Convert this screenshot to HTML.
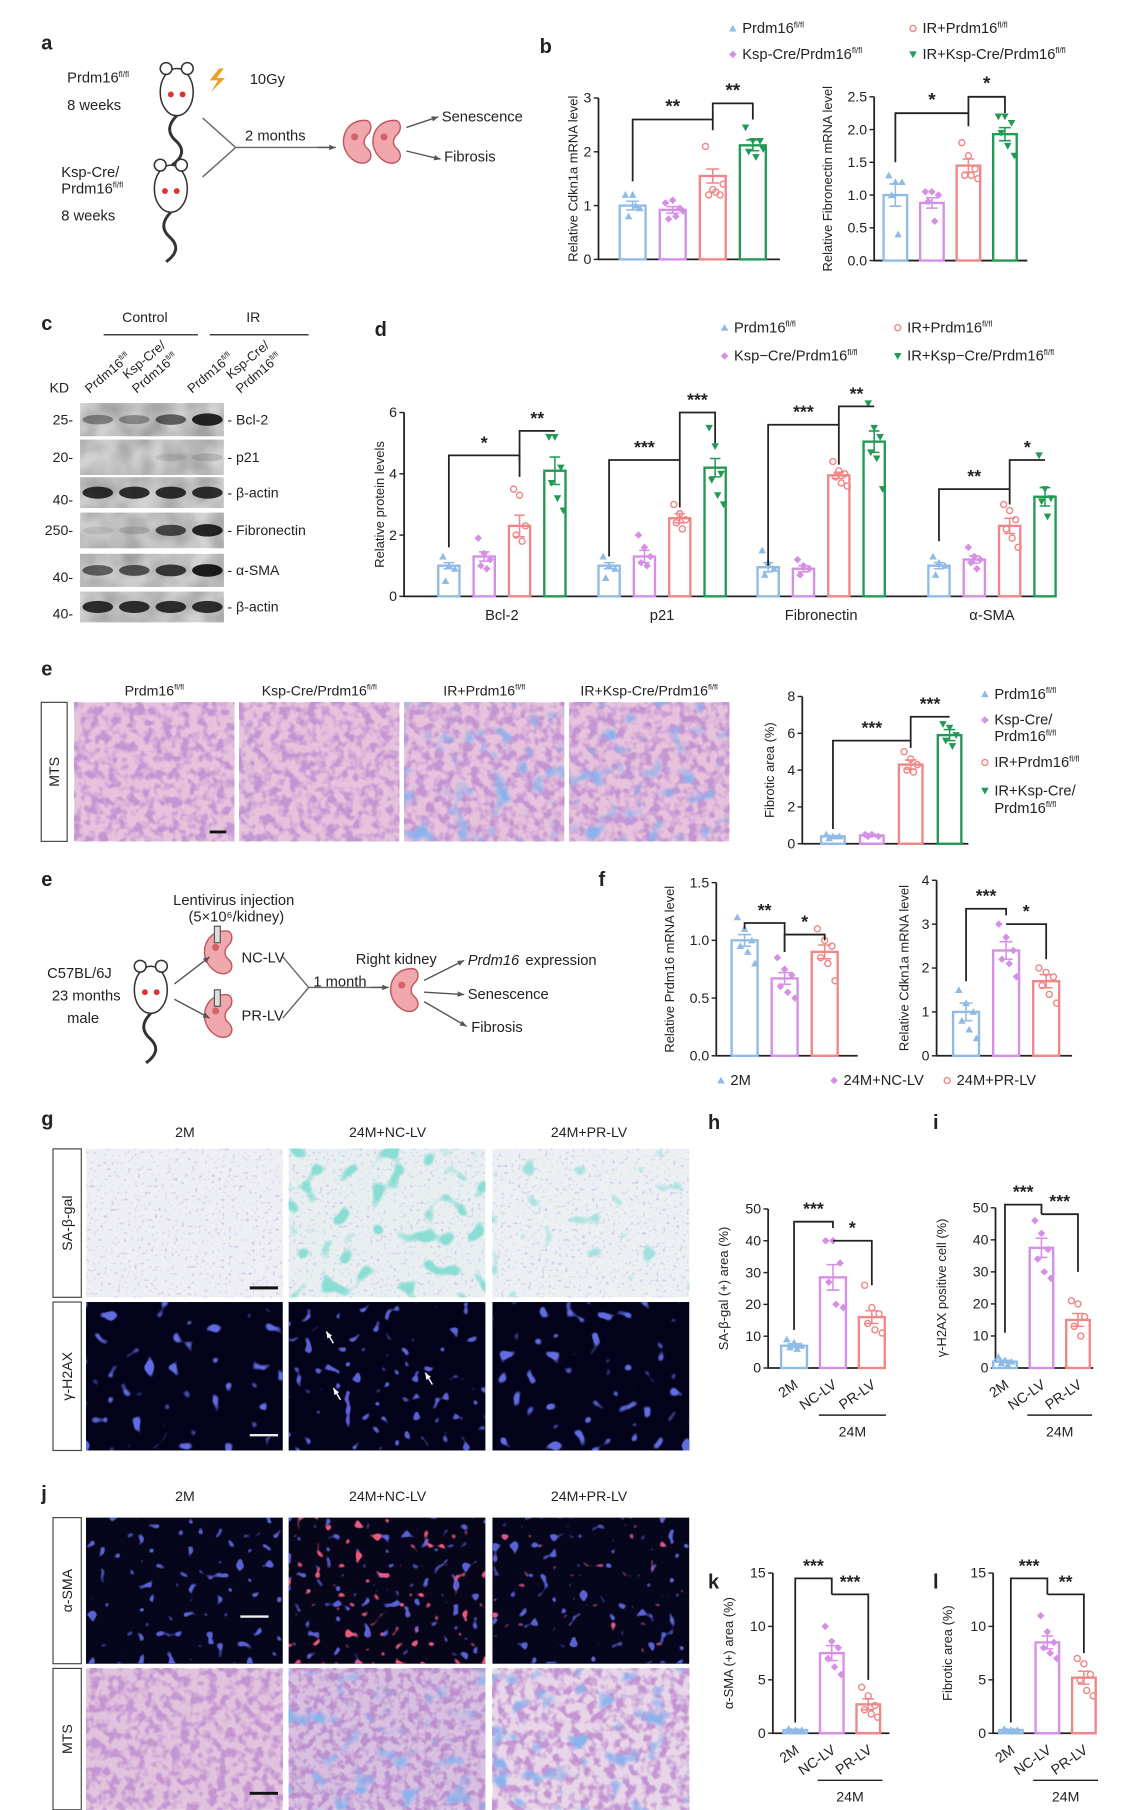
<!DOCTYPE html>
<html><head><meta charset="utf-8">
<style>
html,body{margin:0;padding:0;background:#fff;}
svg{display:block;font-family:"Liberation Sans",sans-serif;}
</style></head>
<body>
<svg id="fig" width="1131" height="1810" viewBox="0 0 960 1536" xmlns="http://www.w3.org/2000/svg">
<defs>
<filter id="histo" x="0" y="0" width="1" height="1"><feTurbulence type="fractalNoise" baseFrequency="0.13" numOctaves="2" seed="3"/><feColorMatrix type="matrix" values="0 0 0 0 0.55  0 0 0 0 0.3  0 0 0 0 0.65  4 0 0 0 -1.7"/></filter>
<filter id="histo2" x="0" y="0" width="1" height="1"><feTurbulence type="fractalNoise" baseFrequency="0.15" numOctaves="2" seed="8"/><feColorMatrix type="matrix" values="0 0 0 0 0.5  0 0 0 0 0.28  0 0 0 0 0.62  4 0 0 0 -1.7"/></filter>
<filter id="collagen" x="0" y="0" width="1" height="1"><feTurbulence type="fractalNoise" baseFrequency="0.06" numOctaves="2" seed="5"/><feColorMatrix type="matrix" values="0 0 0 0 0.25  0 0 0 0 0.45  0 0 0 0 0.85  5 0 0 0 -2.9"/></filter>
<filter id="dots" x="0" y="0" width="1" height="1"><feTurbulence type="fractalNoise" baseFrequency="0.35" numOctaves="1" seed="2"/><feColorMatrix type="matrix" values="0 0 0 0 0.62  0 0 0 0 0.58  0 0 0 0 0.82  6 0 0 0 -3.6"/></filter>
<filter id="teal" x="0" y="0" width="1" height="1"><feTurbulence type="fractalNoise" baseFrequency="0.07" numOctaves="1" seed="11"/><feColorMatrix type="matrix" values="0 0 0 0 0.25  0 0 0 0 0.72  0 0 0 0 0.65  10 0 0 0 -5.8"/></filter>
<filter id="teal2" x="0" y="0" width="1" height="1"><feTurbulence type="fractalNoise" baseFrequency="0.07" numOctaves="1" seed="4"/><feColorMatrix type="matrix" values="0 0 0 0 0.35  0 0 0 0 0.75  0 0 0 0 0.72  10 0 0 0 -6.6"/></filter>
<filter id="nuclei" x="0" y="0" width="1" height="1"><feTurbulence type="fractalNoise" baseFrequency="0.09" numOctaves="1" seed="6"/><feColorMatrix type="matrix" values="0 0 0 0 0.12  0 0 0 0 0.15  0 0 0 0 0.75  14 0 0 0 -9"/></filter>
<filter id="nuclei2" x="0" y="0" width="1" height="1"><feTurbulence type="fractalNoise" baseFrequency="0.12" numOctaves="1" seed="9"/><feColorMatrix type="matrix" values="0 0 0 0 0.1  0 0 0 0 0.12  0 0 0 0 0.65  14 0 0 0 -9"/></filter>
<filter id="redsig" x="0" y="0" width="1" height="1"><feTurbulence type="fractalNoise" baseFrequency="0.12" numOctaves="1" seed="13"/><feColorMatrix type="matrix" values="0 0 0 0 0.85  0 0 0 0 0.1  0 0 0 0 0.2  14 0 0 0 -9.2"/></filter>
<filter id="redsig2" x="0" y="0" width="1" height="1"><feTurbulence type="fractalNoise" baseFrequency="0.12" numOctaves="1" seed="17"/><feColorMatrix type="matrix" values="0 0 0 0 0.7  0 0 0 0 0.1  0 0 0 0 0.25  14 0 0 0 -9.8"/></filter>
<filter id="blot" x="0" y="0" width="1" height="1"><feTurbulence type="fractalNoise" baseFrequency="0.05" numOctaves="2" seed="1"/><feColorMatrix type="matrix" values="0 0 0 0 0  0 0 0 0 0  0 0 0 0 0  0.4 0 0 0 -0.1"/></filter>
</defs>
</svg>
<script>
// ---------------- DATA ----------------
const groups4 = ['Prdm16fl/fl','Ksp-Cre/Prdm16fl/fl','IR+Prdm16fl/fl','IR+Ksp-Cre/Prdm16fl/fl'];
const groups3 = ['2M','24M+NC-LV','24M+PR-LV'];
const bCdkVals = [1.0, 0.92, 1.55, 2.12];
const bCdkSem = [0.08, 0.06, 0.13, 0.1];
const bCdkPts = [[1.2,1.2,0.95,0.8,1.0],[1.05,1.1,0.95,0.75,0.8,0.9],[2.1,1.3,1.2,1.2,1.25,1.4],[2.45,2.2,2.2,2.0,1.9,2.05]];
const bCdkTicks = [0,1,2,3];
const bFnVals = [1.0, 0.88, 1.45, 1.93];
const bFnSem = [0.17, 0.08, 0.1, 0.1];
const bFnPts = [[1.3,1.2,1.2,1.0,0.4],[1.05,1.05,1.0,0.9,0.6],[1.8,1.6,1.4,1.3,1.3,1.25],[2.2,2.2,2.1,1.95,1.75,1.6]];
const bFnTicks = [0,0.5,1,1.5,2,2.5];
const dCats = ['Bcl-2','p21','Fibronectin','α-SMA'];
const dVals = [[1.0,1.3,2.3,4.1],[1.0,1.3,2.55,4.2],[0.95,0.9,3.95,5.05],[1.0,1.2,2.3,3.25]];
const dSem = [[0.1,0.15,0.35,0.45],[0.1,0.2,0.15,0.3],[0.15,0.1,0.1,0.35],[0.1,0.12,0.25,0.3]];
const dPts = [[[1.3,1.0,0.9,0.5],[1.9,1.4,1.2,1.0,0.9],[3.5,3.3,2.3,2.0,1.8],[5.2,5.2,4.2,3.7,3.2,2.8]],[[1.3,1.0,0.9,0.6],[2.0,1.6,1.3,1.1,1.0],[3.0,2.7,2.5,2.4,2.2],[5.5,4.9,4.0,3.8,3.3,3.0]],[[1.5,1.1,0.9,0.7],[1.2,1.0,0.9,0.7],[4.4,4.1,4.0,3.9,3.7,3.6],[6.3,5.5,5.2,4.7,4.5,3.5]],[[1.3,1.1,1.0,0.7],[1.6,1.3,1.2,1.1,0.9],[3.0,2.8,2.5,2.2,1.9,1.6],[4.6,3.5,3.2,3.1,2.6]]];
const dTicks = [0,2,4,6];
const eVals = [0.4, 0.45, 4.3, 5.9];
const eSem = [0.05, 0.05, 0.25, 0.3];
const ePts = [[0.5,0.4,0.4,0.3],[0.5,0.5,0.4,0.4],[5.0,4.6,4.3,4.0,3.9],[6.5,6.3,5.9,5.6,5.3]];
const eTicks = [0,2,4,6,8];
const fPrdmVals = [1.0, 0.67, 0.9];
const fPrdmSem = [0.05, 0.05, 0.06];
const fPrdmPts = [[1.2,1.1,1.0,0.95,0.9,0.8],[0.85,0.75,0.7,0.6,0.55,0.5],[1.1,1.0,0.95,0.85,0.8,0.65]];
const fPrdmTicks = [0,0.5,1,1.5];
const fCdkVals = [1.0, 2.4, 1.7];
const fCdkSem = [0.2, 0.2, 0.15];
const fCdkPts = [[1.5,1.2,1.0,0.8,0.6,0.4],[3.0,2.7,2.4,2.2,2.1,1.8],[2.0,1.9,1.8,1.6,1.4,1.2]];
const fCdkTicks = [0,1,2,3,4];
const hVals = [7, 28.5, 16];
const hSem = [0.6, 4, 2];
const hPts = [[9,8,7,6.5,6],[40,40,33,27,20,19],[26,19,17,14,12,11]];
const hTicks = [0,10,20,30,40,50];
const iVals = [2, 37.5, 15];
const iSem = [0.4, 3, 2];
const iPts = [[3.5,2.5,2,1.5,1],[46,42,37,34,30,28],[21,20,16,13,10]];
const iTicks = [0,10,20,30,40,50];
const kVals = [0.3, 7.5, 2.7];
const kSem = [0.05, 0.7, 0.5];
const kPts = [[0.4,0.3,0.3,0.2,0.2],[10,8.6,8,7,6.2,5.5],[4.3,3.5,2.6,2.2,1.8,1.5]];
const kTicks = [0,5,10,15];
const lVals = [0.3, 8.5, 5.2];
const lSem = [0.05, 0.6, 0.6];
const lPts = [[0.4,0.3,0.3,0.2,0.2],[11,9.5,8.5,8,7.5,7],[7,6.5,5.5,5,4,3.5]];
const lTicks = [0,5,10,15];

// ---------------- HELPERS ----------------
const NS='http://www.w3.org/2000/svg';
const svg=document.getElementById('fig');
const C4=['#8fbbe6','#d58fe6','#f08686','#229a55'];
const S4=['tri','dia','circ','tridown'];
const C3=['#8fbbe6','#d58fe6','#f08686'];
const S3=['tri','dia','circ'];
function mk(tag,attrs,parent){const e=document.createElementNS(NS,tag);for(const k in attrs)e.setAttribute(k,attrs[k]);(parent||svg).appendChild(e);return e;}
function txt(x,y,s,size,opts,parent){opts=opts||{};const t=mk('text',{x:x,y:y,'font-size':size,fill:opts.fill||'#222','text-anchor':opts.anchor||'start','font-weight':opts.bold?'bold':'normal','font-style':opts.italic?'italic':'normal'},parent);if(opts.rot)t.setAttribute('transform','rotate('+opts.rot+' '+x+' '+y+')');t.textContent=s;return t;}
function fltxt(x,y,base,size,opts,parent){const t=txt(x,y,base,size,opts,parent);const sp=document.createElementNS(NS,'tspan');sp.setAttribute('font-size',size*0.55);sp.setAttribute('dy',-size*0.4);sp.textContent='fl/fl';t.appendChild(sp);return t;}
function marker(x,y,shape,color,r,parent){let e;
 if(shape==='tri')e=mk('path',{d:`M${x} ${y-r}L${x+r} ${y+r*0.8}L${x-r} ${y+r*0.8}Z`,fill:color},parent);
 else if(shape==='tridown')e=mk('path',{d:`M${x} ${y+r}L${x+r} ${y-r*0.8}L${x-r} ${y-r*0.8}Z`,fill:color},parent);
 else if(shape==='dia')e=mk('path',{d:`M${x} ${y-r}L${x+r} ${y}L${x} ${y+r}L${x-r} ${y}Z`,fill:color},parent);
 else e=mk('circle',{cx:x,cy:y,r:r*0.8,fill:'none',stroke:color,'stroke-width':1.2},parent);
 return e;}
function panelLabel(x,y,s){const t=txt(x,y,s,17,{bold:true});}

function barChart(o){
 const g=mk('g',{});
 
 
 const max=o.ticks[o.ticks.length-1];
 const Y=v=>o.y0-(v/max)*(o.y0-o.yTop);
 o.Y=Y;
 const ax=mk('path',{d:`M${o.ax} ${o.yTop}V${o.y0}H${o.axEnd}`,fill:'none',stroke:'#222','stroke-width':1.5},g);
 
 
 o.ticks.forEach(t=>{
  mk('line',{x1:o.ax-4,x2:o.ax,y1:Y(t),y2:Y(t),stroke:'#222','stroke-width':1.2},g);
  const tl=txt(o.ax-6,Y(t)+4,o.tickFmt?o.tickFmt(t):String(t),o.fs||12,{anchor:'end'},g);
  
  
 });
 const yl=txt(o.ylx,(o.y0+o.yTop)/2,o.ylabel,o.yfs||11,{anchor:'middle',rot:-90},g);
 
 
 o.centers=[];
 o.vals.forEach((v,i)=>{
  const c=(o.cx?o.cx(i):o.c0+i*o.step);o.centers.push(c);
  const col=o.colors[i%o.colors.length];
  const r=mk('rect',{x:c-o.bw/2,y:Y(v),width:o.bw,height:o.y0-Y(v),fill:'#fff',stroke:col,'stroke-width':2},g);
  
  
  const s=o.sem[i];
  mk('path',{d:`M${c} ${Y(v-s)}V${Y(v+s)}M${c-o.bw*0.25} ${Y(v+s)}H${c+o.bw*0.25}M${c-o.bw*0.25} ${Y(v-s)}H${c+o.bw*0.25}`,stroke:col,'stroke-width':1.3,fill:'none'},g);
  o.pts[i].forEach((p,k)=>{
   const off=((k%3)-1)*o.bw*0.28+(k>=3?o.bw*0.12:0);
   const m=marker(c+off,Y(p),o.shapes[i%o.shapes.length],col,o.mr||3.2,g);
   
   
  });
 });
 return o;
}
function bracket(o,i,j,h,la,lb,label,fs){
 const Y=o.Y,x1=o.centers[i],x2=o.centers[j];
 const p=mk('path',{d:`M${x1} ${Y(la)}V${Y(h)}H${x2}V${Y(lb)}`,fill:'none',stroke:'#222','stroke-width':1.5});
 
 
 const t=txt((x1+x2)/2,Y(h)-6,label,fs||15,{anchor:'middle',bold:true});
 
 
}
function xCatRot(o,labels){
 labels.forEach((l,i)=>{const t=txt(o.centers[i]+4,o.y0+16,l,12,{anchor:'end',rot:-35});
  
  });
 mk('line',{x1:o.centers[1]-12,x2:o.centers[2]+12,y1:o.y0+40,y2:o.y0+40,stroke:'#222','stroke-width':1.2});
 const t=txt((o.centers[1]+o.centers[2])/2,o.y0+58,'24M',12,{anchor:'middle'});
 
 
}
function image(x,y,w,h,base,filters,name){
 const g=mk('g',{});
 
 
 mk('rect',{x:x,y:y,width:w,height:h,fill:base},g);
 filters.forEach(f=>mk('rect',{x:x,y:y,width:w,height:h,filter:'url(#'+f+')'},g));
 return g;
}
function sideLabel(x,y,w,h,s){
 const r=mk('rect',{x:x,y:y,width:w,height:h,fill:'#fff',stroke:'#444','stroke-width':1});
 
 
 const t=txt(x+w/2+4,y+h/2,s,12,{anchor:'middle',rot:-90});
 
 
}
function legendEntry(x,y,shape,col,label,fl){
 const m=marker(x,y-4,shape,col,3.2);
 
 
 const t=fl?fltxt(x+8,y,label,12.5,{}):txt(x+8,y,label,12.5,{});
 
 
}
function mouse(x,y){
 const g=mk('g',{fill:'#fff',stroke:'#333','stroke-width':1.3});
 
 
 mk('ellipse',{cx:x,cy:y,rx:14,ry:20},g);
 mk('circle',{cx:x-9,cy:y-20,r:5},g);mk('circle',{cx:x+9,cy:y-20,r:5},g);
 mk('path',{d:`M${x} ${y+20}q-12 12 0 22q10 10 -4 20`,fill:'none','stroke-width':2.5},g);
 mk('circle',{cx:x-5,cy:y+2,r:2.5,fill:'#d33',stroke:'none'},g);mk('circle',{cx:x+5,cy:y+2,r:2.5,fill:'#d33',stroke:'none'},g);
}
function kidney(x,y,s){
 const g=mk('g',{});
 
 
 mk('path',{d:`M${x} ${y-18*s}c-16 0-20 14-18 22s10 16 18 14c6-2 6-8 2-12c-4-3-4-8 0-12c4-3 4-12-2-12z`,fill:'#f0a8ac',stroke:'#c0565e','stroke-width':1.2},g);
 mk('circle',{cx:x-9,cy:y-4,r:3,fill:'#d4626b'},g);
 return g;
}
function arrow(x1,y1,x2,y2,col){
 col=col||'#555';
 const l=mk('line',{x1:x1,y1:y1,x2:x2,y2:y2,stroke:col,'stroke-width':1.2});
 
 
 const a=Math.atan2(y2-y1,x2-x1),L=6;
 mk('path',{d:`M${x2} ${y2}L${x2-L*Math.cos(a-0.4)} ${y2-L*Math.sin(a-0.4)}L${x2-L*Math.cos(a+0.4)} ${y2-L*Math.sin(a+0.4)}Z`,fill:col});
}

// ---------------- PANEL A ----------------
panelLabel(35,42,'a');
fltxt(57,70,'Prdm16',12.5,{});txt(57,93,'8 weeks',12.5,{});
mouse(150,78);
mk('path',{d:'M186 58l-8 10h7l-6 10l12-12h-7l6-8z',fill:'#f0a020'});
txt(212,71,'10Gy',12.5,{});
txt(52,150,'Ksp-Cre/',12.5,{});fltxt(52,164,'Prdm16',12.5,{});txt(52,187,'8 weeks',12.5,{});
mouse(145,160);
mk('path',{d:'M172 100L200 125L172 150M200 125H280',fill:'none',stroke:'#666','stroke-width':1.2});
arrow(270,125,285,125);
txt(208,119,'2 months',12.5,{});
kidney(310,120,1);kidney(335,120,1);
arrow(345,108,372,99);arrow(345,128,374,135);
txt(375,103,'Senescence',12.5,{});txt(377,137,'Fibrosis',12.5,{});

// ---------------- PANEL B ----------------
panelLabel(458,45,'b');
legendEntry(622,28,'tri',C4[0],'Prdm16',true);
legendEntry(775,28,'circ',C4[2],'IR+Prdm16',true);
legendEntry(622,50,'dia',C4[1],'Ksp-Cre/Prdm16',true);
legendEntry(775,50,'tridown',C4[3],'IR+Ksp-Cre/Prdm16',true);
const b1=barChart({name:'cdkn1a-chart',ax:508,axEnd:662,y0:220,yTop:83,ticks:bCdkTicks,c0:537,step:34,bw:22,vals:bCdkVals,sem:bCdkSem,pts:bCdkPts,colors:C4,shapes:S4,ylabel:'Relative Cdkn1a mRNA level',ylx:490,labels:groups4});
bracket(b1,0,2,2.6,1.45,2.4,'**',16);
bracket(b1,2,3,2.9,2.6,2.6,'**',16);
const b2=barChart({name:'fibronectin-mrna-chart',ax:742,axEnd:872,y0:221,yTop:82,ticks:bFnTicks,tickFmt:t=>t.toFixed(1),c0:760,step:31,bw:20,vals:bFnVals,sem:bFnSem,pts:bFnPts,colors:C4,shapes:S4,ylabel:'Relative Fibronectin mRNA level',ylx:706,labels:groups4});
bracket(b2,0,2,2.25,1.5,2.05,'*',16);
bracket(b2,2,3,2.5,2.25,2.25,'*',16);

// ---------------- PANEL C ----------------
panelLabel(35,280,'c');
txt(123,273,'Control',12,{anchor:'middle'});txt(215,273,'IR',12,{anchor:'middle'});
mk('line',{x1:88,x2:168,y1:284,y2:284,stroke:'#444','stroke-width':1.3});
mk('line',{x1:178,x2:262,y1:284,y2:284,stroke:'#444','stroke-width':1.3});
fltxt(76,334,'Prdm16',11,{rot:-40});
txt(108,322,'Ksp-Cre/',11,{rot:-40});fltxt(116,334,'Prdm16',11,{rot:-40});
fltxt(163,334,'Prdm16',11,{rot:-40});
txt(196,322,'Ksp-Cre/',11,{rot:-40});fltxt(204,334,'Prdm16',11,{rot:-40});
txt(42,333,'KD',12,{});
const blotRows=[['Bcl-2','25',342,370,[0.4,0.35,0.6,0.9]],['p21','20',373,403,[0,0,0.1,0.15]],['β-actin','40',405,431,[0.85,0.85,0.85,0.85]],['Fibronectin','250',435,465,[0.1,0.15,0.7,0.9]],['α-SMA','40',470,498,[0.6,0.65,0.8,0.95]],['β-actin','40',502,528,[0.85,0.85,0.85,0.85]]];
blotRows.forEach(r=>{
 const g=mk('g',{});
 
 
 mk('rect',{x:68,y:r[2],width:122,height:r[3]-r[2],fill:'#d2d2d2'},g);
 mk('rect',{x:68,y:r[2],width:122,height:r[3]-r[2],filter:'url(#blot)'},g);
 r[4].forEach((a,i)=>{if(a>0)mk('ellipse',{cx:83+i*31,cy:(r[2]+r[3])/2,rx:13,ry:3+a*2.5,fill:'#111','fill-opacity':a},g);});
 txt(193,(r[2]+r[3])/2+4,'- '+r[0],12,{},g);
 txt(62,(r[2]+r[3])/2+4+ (r[0]==='β-actin'||r[0]==='α-SMA'?6:0),r[1]+'-',12,{anchor:'end'},g);
});

// ---------------- PANEL D ----------------
panelLabel(318,285,'d');
legendEntry(615,282,'tri',C4[0],'Prdm16',true);
legendEntry(762,282,'circ',C4[2],'IR+Prdm16',true);
legendEntry(615,306,'dia',C4[1],'Ksp−Cre/Prdm16',true);
legendEntry(762,306,'tridown',C4[3],'IR+Ksp−Cre/Prdm16',true);
const dGroupStart=[381,517,652,797];
const dFlat=[].concat(...dVals),dSemFlat=[].concat(...dSem),dPtsFlat=[].concat(...dPts);
const dc=barChart({name:'protein-levels-chart',ax:343,axEnd:895,y0:506,yTop:350,ticks:dTicks,cx:i=>dGroupStart[Math.floor(i/4)]+(i%4)*30,bw:18,vals:dFlat,sem:dSemFlat,pts:dPtsFlat,colors:C4,shapes:S4,ylabel:'Relative protein levels',ylx:326});
dCats.forEach((c,gi)=>{const t=txt(dGroupStart[gi]+45,526,c,12.5,{anchor:'middle'});
 
 });
bracket(dc,0,2,4.6,1.6,3.9,'*',15);bracket(dc,2,3,5.4,4.4,5.4,'**',15);
bracket(dc,4,6,4.45,1.3,4.45,'***',15);bracket(dc,6,7,6.0,2.9,5.0,'***',15);
bracket(dc,8,10,5.6,1.0,4.3,'***',15);bracket(dc,10,11,6.2,5.6,6.2,'**',15);
bracket(dc,12,14,3.5,1.8,3.0,'**',15);bracket(dc,14,15,4.45,3.5,4.45,'*',15);

// ---------------- PANEL E (MTS) ----------------
panelLabel(35,573,'e');
sideLabel(35,596,22,118,'MTS');
const eTitles=['Prdm16','Ksp-Cre/Prdm16','IR+Prdm16','IR+Ksp-Cre/Prdm16'];
[63,203,343,483].forEach((x,i)=>{
 image(x,596,136,118,'#e6c2dc',i<2?['histo']:['histo','collagen'],'mts-image-'+i);
 fltxt(x+68,590,eTitles[i],12,{anchor:'middle'});
});
mk('line',{x1:178,x2:192,y1:706,y2:706,stroke:'#111','stroke-width':2.5});
const ec=barChart({name:'fibrotic-area-chart',ax:681,axEnd:822,y0:716,yTop:591,ticks:eTicks,c0:707,step:33,bw:20,vals:eVals,sem:eSem,pts:ePts,colors:C4,shapes:S4,ylabel:'Fibrotic area (%)',ylx:657,labels:groups4});
bracket(ec,0,2,5.6,0.8,5.2,'***',15);bracket(ec,2,3,6.9,5.6,6.9,'***',15);
legendEntry(836,593,'tri',C4[0],'Prdm16',true);
legendEntry(836,615,'dia',C4[1],'Ksp-Cre/',false);fltxt(844,629,'Prdm16',12.5,{});
legendEntry(836,651,'circ',C4[2],'IR+Prdm16',true);
legendEntry(836,675,'tridown',C4[3],'IR+Ksp-Cre/',false);fltxt(844,690,'Prdm16',12.5,{});

// ---------------- PANEL E2 (diagram) ----------------
panelLabel(35,752,'e');
txt(147,768,'Lentivirus injection',12.5,{});txt(160,782,'(5×10⁶/kidney)',12.5,{});
txt(40,830,'C57BL/6J',12.5,{});txt(44,849,'23 months',12.5,{});txt(57,868,'male',12.5,{});
mouse(128,840);
kidney(192,808,1);kidney(192,862,1);
mk('rect',{x:182,y:786,width:5,height:14,fill:'#ddd',stroke:'#555'});mk('rect',{x:182,y:840,width:5,height:14,fill:'#ddd',stroke:'#555'});
arrow(148,835,178,812);arrow(148,848,178,864);
txt(205,817,'NC-LV',12.5,{});txt(205,866,'PR-LV',12.5,{});
mk('path',{d:'M240 812L262 838L240 864M262 838H325',fill:'none',stroke:'#666','stroke-width':1.2});
arrow(315,838,330,838);
txt(266,837,'1 month',12.5,{});txt(302,818,'Right kidney',12.5,{});
kidney(350,840,1);
arrow(360,832,394,815);arrow(360,842,394,844);arrow(360,850,396,871);
const pe=txt(397,819,'Prdm16',12.5,{italic:true});
txt(446,819,' expression',12.5,{});
txt(397,848,'Senescence',12.5,{});txt(400,876,'Fibrosis',12.5,{});

// ---------------- PANEL F ----------------
panelLabel(508,752,'f');
const f1=barChart({name:'prdm16-mrna-chart',ax:608,axEnd:728,y0:896,yTop:749,ticks:fPrdmTicks,tickFmt:t=>t.toFixed(1),c0:632,step:34,bw:22,vals:fPrdmVals,sem:fPrdmSem,pts:fPrdmPts,colors:C3,shapes:S3,ylabel:'Relative Prdm16 mRNA level',ylx:572,labels:groups3});
bracket(f1,0,1,1.15,1.1,0.9,'**',15);bracket(f1,1,2,1.05,0.9,1.0,'*',15);
const f2=barChart({name:'cdkn1a-mrna-chart-f',ax:795,axEnd:910,y0:896,yTop:747,ticks:fCdkTicks,c0:820,step:34,bw:22,vals:fCdkVals,sem:fCdkSem,pts:fCdkPts,colors:C3,shapes:S3,ylabel:'Relative Cdkn1a mRNA level',ylx:771,labels:groups3});
bracket(f2,0,1,3.35,1.7,3.2,'***',15);bracket(f2,1,2,3.0,3.0,2.2,'*',15);
legendEntry(612,921,'tri',C3[0],'2M',false);
legendEntry(708,921,'dia',C3[1],'24M+NC-LV',false);
legendEntry(804,921,'circ',C3[2],'24M+PR-LV',false);

// ---------------- PANEL G ----------------
panelLabel(35,955,'g');
groups3.forEach((t,i)=>{txt([157,329,500][i],965,t,12,{anchor:'middle'});});
sideLabel(45,975,24,126,'SA-β-gal');
sideLabel(45,1105,24,126,'γ-H2AX');
image(73,975,167,126,'#eeeff4',['dots'],'sa-beta-gal-2m');
image(245,975,167,126,'#e9eff1',['dots','teal'],'sa-beta-gal-nc-lv');
image(418,975,167,126,'#ecf0f3',['dots','teal2'],'sa-beta-gal-pr-lv');
mk('line',{x1:212,x2:236,y1:1093,y2:1093,stroke:'#111','stroke-width':2.5});
image(73,1105,167,126,'#02021a',['nuclei'],'h2ax-2m');
image(245,1105,167,126,'#02021a',['nuclei2'],'h2ax-nc-lv');
image(418,1105,167,126,'#02021a',['nuclei'],'h2ax-pr-lv');
mk('line',{x1:212,x2:236,y1:1218,y2:1218,stroke:'#eee','stroke-width':2});
[[277,1130],[283,1178],[361,1165]].forEach(p=>arrow(p[0]+6,p[1]+10,p[0],p[1],'#fff'));

// ---------------- PANEL H / I ----------------
panelLabel(601,958,'h');
const hc=barChart({name:'sa-beta-gal-area-chart',ax:652,axEnd:752,y0:1161,yTop:1026,ticks:hTicks,c0:674,step:33,bw:22,vals:hVals,sem:hSem,pts:hPts,colors:C3,shapes:S3,ylabel:'SA-β-gal (+) area (%)',ylx:618,labels:groups3});
bracket(hc,0,1,46,12,44,'***',15);bracket(hc,1,2,40,40,26,'*',15);
xCatRot(hc,['2M','NC-LV','PR-LV']);
panelLabel(792,958,'i');
const ic=barChart({name:'h2ax-positive-chart',ax:845,axEnd:928,y0:1161,yTop:1025,ticks:iTicks,c0:853,step:31,bw:20,vals:iVals,sem:iSem,pts:iPts,colors:C3,shapes:S3,ylabel:'γ-H2AX positive cell (%)',ylx:803,labels:groups3});
bracket(ic,0,1,51,11,48,'***',15);bracket(ic,1,2,48,48,30,'***',15);
xCatRot(ic,['2M','NC-LV','PR-LV']);

// ---------------- PANEL J ----------------
panelLabel(35,1273,'j');
groups3.forEach((t,i)=>{txt([157,329,500][i],1274,t,12,{anchor:'middle'});});
sideLabel(45,1288,24,124,'α-SMA');
sideLabel(45,1416,24,120,'MTS');
image(73,1288,167,124,'#05051c',['nuclei2'],'alpha-sma-2m');
image(245,1288,167,124,'#06051a',['nuclei2','redsig'],'alpha-sma-nc-lv');
image(418,1288,167,124,'#05051c',['nuclei2','redsig2'],'alpha-sma-pr-lv');
mk('line',{x1:204,x2:228,y1:1372,y2:1372,stroke:'#eee','stroke-width':2});
image(73,1416,167,120,'#e2c3dd',['histo'],'mts-2m');
image(245,1416,167,120,'#d9c0e0',['histo2','collagen'],'mts-nc-lv');
image(418,1416,167,120,'#e8d6e8',['histo','collagen'],'mts-pr-lv');
mk('line',{x1:212,x2:236,y1:1522,y2:1522,stroke:'#111','stroke-width':2.5});

// ---------------- PANEL K / L ----------------
panelLabel(601,1348,'k');
const kc=barChart({name:'alpha-sma-area-chart',ax:656,axEnd:755,y0:1471,yTop:1335,ticks:kTicks,c0:675,step:31,bw:20,vals:kVals,sem:kSem,pts:kPts,colors:C3,shapes:S3,ylabel:'α-SMA (+) area (%)',ylx:622,labels:groups3});
bracket(kc,0,1,14.5,1,13,'***',15);bracket(kc,1,2,13,13,5,'***',15);
xCatRot(kc,['2M','NC-LV','PR-LV']);
panelLabel(792,1348,'l');
const lc=barChart({name:'fibrotic-area-chart-l',ax:843,axEnd:930,y0:1471,yTop:1335,ticks:lTicks,c0:858,step:31,bw:20,vals:lVals,sem:lSem,pts:lPts,colors:C3,shapes:S3,ylabel:'Fibrotic area (%)',ylx:808,labels:groups3});
bracket(lc,0,1,14.5,1,13,'***',15);bracket(lc,1,2,13,13,7.5,'**',15);
xCatRot(lc,['2M','NC-LV','PR-LV']);
</script>
</body></html>
